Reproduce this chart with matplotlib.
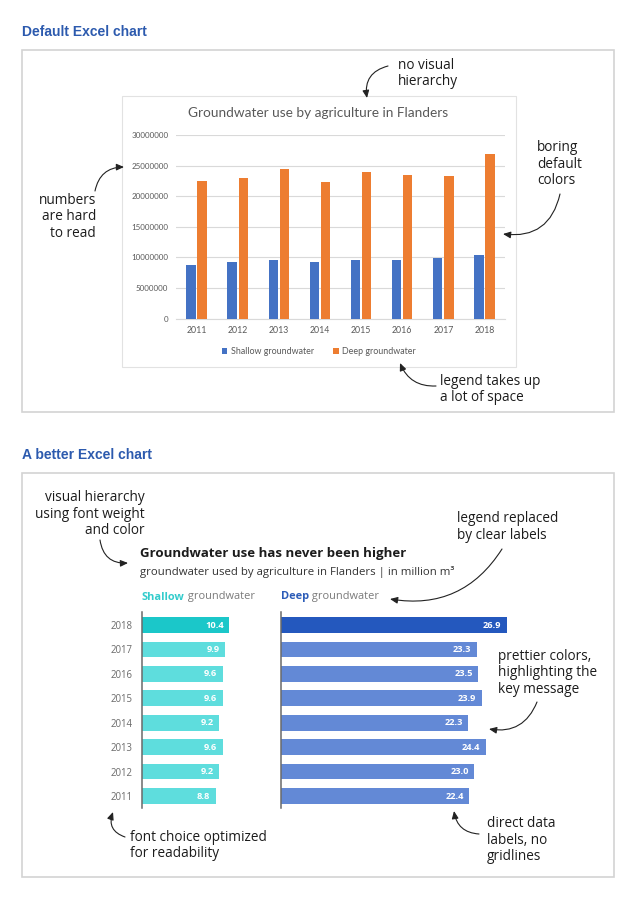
import matplotlib
matplotlib.use("Agg")
import matplotlib.pyplot as plt
from matplotlib.patches import Rectangle

# ---------------- data ----------------
years = [2011, 2012, 2013, 2014, 2015, 2016, 2017, 2018]
shallow = [8.8, 9.2, 9.6, 9.2, 9.6, 9.6, 9.9, 10.4]      # million m3
deep = [22.4, 23.0, 24.4, 22.3, 23.9, 23.5, 23.3, 26.9]   # million m3
excel_yticks = [0, 5000000, 10000000, 15000000, 20000000, 25000000, 30000000]
series_names = ["Shallow groundwater", "Deep groundwater"]

W, H = 637, 900
fig = plt.figure(figsize=(W / 100, H / 100), dpi=100)
fig.patch.set_facecolor("white")


def rect(x0, y0, x1, y1):
    return [x0 / W, 1 - y1 / H, (x1 - x0) / W, (y1 - y0) / H]


ANN = "Open Sans"
BOLD = "Open Sans"
EXCEL = "Lato"
HEAD = "Liberation Sans"
ink = "#1c1c1c"

# ---------------- default Excel chart ----------------
axe = fig.add_axes(rect(176, 135, 505, 318.5))
xs = list(range(len(years)))
bw = 0.23
off = 0.135
axe.bar([x - off for x in xs], [v * 1e6 for v in shallow], width=bw,
        color="#4472C4", label=series_names[0], zorder=3)
axe.bar([x + off for x in xs], [v * 1e6 for v in deep], width=bw,
        color="#ED7D31", label=series_names[1], zorder=3)
axe.set_xlim(-0.5, len(years) - 0.5)
axe.set_ylim(0, 30000000)
axe.set_yticks(excel_yticks)
axe.set_yticklabels([str(v) for v in excel_yticks])
axe.set_xticks(xs)
axe.set_xticklabels([str(y) for y in years])
axe.yaxis.grid(True, color="#D9D9D9", lw=0.8, zorder=0)
for s in ["top", "right", "left"]:
    axe.spines[s].set_visible(False)
axe.spines["bottom"].set_color("#D9D9D9")
axe.tick_params(axis="both", length=0, colors="#595959", labelsize=6.3)
axe.tick_params(axis="y", pad=5.5, labelsize=5.8)
axe.tick_params(axis="x", pad=5.5)
for lab in axe.get_xticklabels() + axe.get_yticklabels():
    lab.set_fontfamily(EXCEL)
axe.set_facecolor("none")
leg = axe.legend(loc="center", bbox_to_anchor=((319 - 176) / 329, -0.182),
                 ncol=2, frameon=False, handlelength=0.6, handleheight=0.6,
                 columnspacing=2.2, handletextpad=0.4,
                 prop={"family": EXCEL, "size": 6.4})
for t in leg.get_texts():
    t.set_color("#595959")

# ---------------- better chart ----------------
row_step = 24.43
top_y, bot_y = 612, 808
ylo = -(bot_y - (625 + 7 * row_step)) / row_step
yhi = 7 + (625 - top_y) / row_step
px_per_unit = 8.4
bh = 0.64

sh_cols = ["#5EDDDD"] * (len(years) - 1) + ["#1BC7C9"]
dp_cols = ["#6389D6"] * (len(years) - 1) + ["#2458BE"]

axs = fig.add_axes(rect(142, top_y, 252, bot_y))
axd = fig.add_axes(rect(281, top_y, 521, bot_y))
for ax, vals, cols, wpx in [(axs, shallow, sh_cols, 110), (axd, deep, dp_cols, 240)]:
    ax.barh(xs, vals, height=bh, color=cols, zorder=2)
    ax.set_xlim(0, wpx / px_per_unit)
    ax.set_ylim(ylo, yhi)
    ax.set_xticks([])
    for s in ["top", "right", "bottom"]:
        ax.spines[s].set_visible(False)
    ax.spines["left"].set_color("#6a6a6a")
    ax.spines["left"].set_linewidth(1.1)
    ax.set_facecolor("none")
    for x, v in zip(xs, vals):
        ax.annotate(f"{v:.1f}", xy=(v, x), xytext=(-4, 0), textcoords="offset points",
                    ha="right", va="center", color="white", fontweight="bold",
                    fontsize=6.7, family=BOLD)
axs.set_yticks(xs)
axs.set_yticklabels([str(y) for y in years], family=ANN)
axs.tick_params(axis="y", length=0, pad=7, labelsize=6.9, colors="#6b6b6b")
axd.set_yticks([])

# ---------------- overlay: boxes, headings, annotations ----------------
ov = fig.add_axes([0, 0, 1, 1], zorder=10)
ov.set_xlim(0, W)
ov.set_ylim(H, 0)
ov.axis("off")
ov.patch.set_alpha(0)

for (x0, y0, x1, y1) in [(22, 50, 614, 412), (22, 473, 614, 877)]:
    ov.add_patch(Rectangle((x0, y0), x1 - x0, y1 - y0, fill=False,
                           ec="#D3D3D3", lw=1.2))
ov.add_patch(Rectangle((122, 96), 394, 271, fill=False, ec="#E2E2E2", lw=0.8))

head_col = "#2C5AAE"
ov.text(22, 32, "Default Excel chart", family=HEAD, fontweight="bold",
        fontsize=10, color=head_col, va="center", ha="left")
ov.text(22, 455, "A better Excel chart", family=HEAD, fontweight="bold",
        fontsize=10, color=head_col, va="center", ha="left")

ov.text(318, 113, "Groundwater use by agriculture in Flanders", family=EXCEL,
        fontsize=9.8, color="#595959", ha="center", va="center")

ov.text(140.5, 553, "Groundwater use has never been higher", family=BOLD,
        fontweight="bold", fontsize=9.5, color=ink, ha="left", va="center")
ov.text(140.5, 572, "groundwater used by agriculture in Flanders | in million m³",
        family=ANN, fontsize=8.2, color="#333333", ha="left", va="center")

t1 = ov.text(142, 597, "Shallow", family=BOLD, fontweight="bold", fontsize=7.9,
             color="#33CCCC", ha="left", va="center")
ov.annotate(" groundwater", xy=(1, 0), xycoords=t1, va="bottom", ha="left",
            family=ANN, fontsize=7.9, color="#7a7a7a")
t2 = ov.text(281, 597, "Deep", family=BOLD, fontweight="bold", fontsize=7.9,
             color="#2C5CB8", ha="left", va="center")
ov.annotate(" groundwater", xy=(1, 0), xycoords=t2, va="bottom", ha="left",
            family=ANN, fontsize=7.9, color="#7a7a7a")

AFS = 9.8
notes = [
    (398, 73.5, "no visual\nhierarchy", "left"),
    (537, 164, "boring\ndefault\ncolors", "left"),
    (96, 217, "numbers\nare hard\nto read", "right"),
    (440, 389.5, "legend takes up\na lot of space", "left"),
    (145, 514, "visual hierarchy\nusing font weight\nand color", "right"),
    (457, 527, "legend replaced\nby clear labels", "left"),
    (498, 673, "prettier colors,\nhighlighting the\nkey message", "left"),
    (487, 840, "direct data\nlabels, no\ngridlines", "left"),
    (130, 845.5, "font choice optimized\nfor readability", "left"),
]
for x, y, s, ha in notes:
    ov.text(x, y, s, family=ANN, fontsize=AFS, color=ink, ha=ha, va="center",
            multialignment=ha, linespacing=1.15)

arrows = [
    ((388, 66), (367, 98), 0.45),
    ((560, 194), (503, 234), -0.45),
    ((95, 191), (124, 167), -0.4),
    ((436, 386), (400, 363), -0.35),
    ((100, 540), (128, 563), 0.45),
    ((502, 549), (390, 599), -0.33),
    ((537, 702), (489, 729), -0.4),
    ((479, 834), (454, 811), -0.4),
    ((125, 837), (113, 812), -0.5),
]
for (a, b, r) in arrows:
    ov.annotate("", xy=b, xytext=a,
                arrowprops=dict(arrowstyle="-|>,head_length=0.5,head_width=0.22",
                                connectionstyle=f"arc3,rad={r}", color="#222222",
                                lw=0.8, shrinkA=0, shrinkB=0, mutation_scale=9))

fig.savefig("out.png", dpi=100, facecolor="white")
